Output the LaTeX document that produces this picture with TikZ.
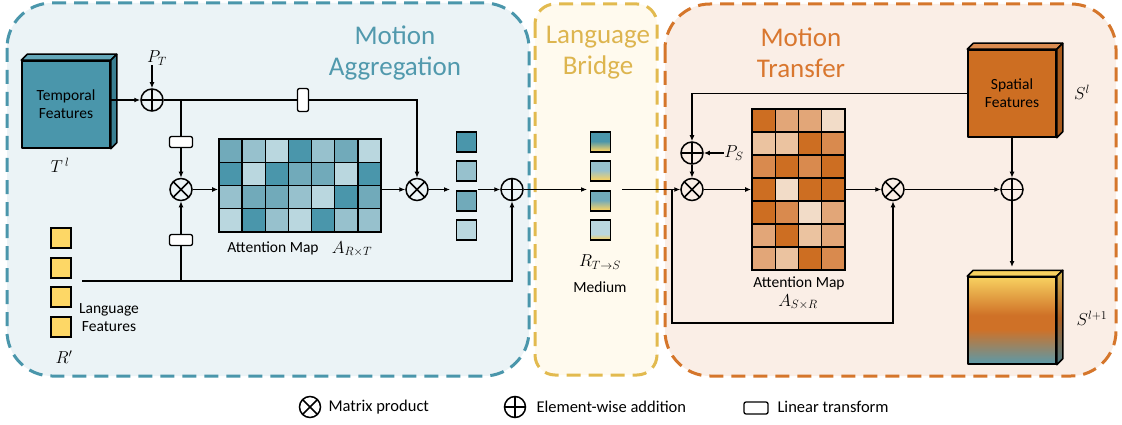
\documentclass[tikz,border=0pt]{standalone}
\usepackage{fontspec}
\setmainfont{Carlito}
\usetikzlibrary{arrows.meta,calc}
\definecolor{tealD}{HTML}{4A96AB}
\definecolor{tealM}{HTML}{71AABA}
\definecolor{tealL}{HTML}{97C1CD}
\definecolor{tealV}{HTML}{BAD7DF}
\definecolor{tealTop}{HTML}{63A7B9}
\definecolor{tealSide}{HTML}{3A7F92}
\definecolor{orD}{HTML}{CD6E22}
\definecolor{orM}{HTML}{D98A4E}
\definecolor{orL}{HTML}{E2A678}
\definecolor{orV}{HTML}{EBC3A0}
\definecolor{orW}{HTML}{F2DCC8}
\definecolor{orTop}{HTML}{DA8B50}
\definecolor{orSide}{HTML}{A95A1C}
\definecolor{blueFill}{HTML}{EBF3F6}
\definecolor{yelFill}{HTML}{FFFAEE}
\definecolor{orFill}{HTML}{FAEEE6}
\definecolor{blueLine}{HTML}{4A96AB}
\definecolor{yelLine}{HTML}{E2BA4F}
\definecolor{orLine}{HTML}{D5762B}
\definecolor{blueTitle}{HTML}{5199AD}
\definecolor{yelTitle}{HTML}{DDB54F}
\definecolor{orTitle}{HTML}{D9772F}
\definecolor{langY}{HTML}{FDD766}
\definecolor{medY}{HTML}{F3D168}
\definecolor{cubeY}{HTML}{F7D160}
\definecolor{cubeO}{HTML}{CF7127}
\definecolor{cubeT}{HTML}{5A9AAA}
\pgfdeclareverticalshading{medsha}{100bp}{color(0bp)=(medY); color(29bp)=(medY); color(52bp)=(tealD); color(100bp)=(tealD)}
\pgfdeclareverticalshading{medshb}{100bp}{color(0bp)=(medY); color(29bp)=(medY); color(52bp)=(tealL); color(100bp)=(tealL)}
\pgfdeclareverticalshading{medshc}{100bp}{color(0bp)=(medY); color(29bp)=(medY); color(52bp)=(tealM); color(100bp)=(tealM)}
\pgfdeclareverticalshading{medshd}{100bp}{color(0bp)=(medY); color(27bp)=(medY); color(40bp)=(tealV); color(100bp)=(tealV)}
\pgfdeclareverticalshading{cubesh}{100bp}{color(0bp)=(cubeT); color(25bp)=(cubeT); color(45bp)=(cubeO); color(53bp)=(cubeO); color(75bp)=(cubeY); color(100bp)=(cubeY)}
\tikzset{
  panel/.style={line width=3pt, dash pattern=on 14pt off 8pt},
  title/.style={font=\fontsize{27}{31}\selectfont, align=center},
  lbl/.style={font=\fontsize{15.5}{18}\selectfont, align=center},
  legtxt/.style={font=\fontsize{16.5}{19}\selectfont, anchor=west},
  mlbl/.style={font=\fontsize{18}{20}\selectfont, inner sep=0},
  conn/.style={line width=1.4pt},
  arr/.style={conn, -{Latex[length=6pt,width=5pt]}},
  opnode/.style={circle, draw, line width=1.5pt, minimum size=22pt, inner sep=0},
  otimesn/.style={opnode, path picture={\draw[line width=1.5pt] (path picture bounding box.north west) -- (path picture bounding box.south east) (path picture bounding box.north east) -- (path picture bounding box.south west);}},
  opl/.style={opnode, path picture={\draw[line width=1.5pt] (path picture bounding box.north) -- (path picture bounding box.south) (path picture bounding box.east) -- (path picture bounding box.west);}},
  lin/.style={draw, fill=white, rounded corners=2pt, line width=1.3pt, inner sep=0},
  linh/.style={lin, minimum width=23pt, minimum height=11pt},
  linv/.style={lin, minimum width=11pt, minimum height=23pt},
  sqn/.style={draw, line width=1.3pt, minimum size=20pt, inner sep=0},
  face/.style={line width=1.5pt, line join=round},
}
\begin{document}
\begin{tikzpicture}[x=1pt,y=-1pt]
\useasboundingbox (0,0) rectangle (1122,425);
% panels
\draw[panel, draw=blueLine, fill=blueFill, rounded corners=45pt] (7,3) rectangle (529,376);
\draw[panel, draw=yelLine, fill=yelFill, rounded corners=20pt] (535,4) rectangle (657,375);
\draw[panel, draw=orLine, fill=orFill, rounded corners=45pt] (665,4) rectangle (1116,376);
\node[title, text=blueTitle] (t1) at (395,53) {Motion\\Aggregation};
\node[title, text=yelTitle] (t2) at (598,53) {Language\\Bridge};
\node[title, text=orTitle] (t3) at (801,53) {Motion\\Transfer};

% temporal features cube
\node[draw, face, fill=tealD, minimum width=88pt, minimum height=87pt, lbl] (tf) at (66,104.5) {Temporal\\Features};
\filldraw[face, fill=tealTop] (tf.north west) -- ++(6,-6) -- ($(tf.north east)+(6,-6)$) -- (tf.north east) -- cycle;
\filldraw[face, fill=tealSide] (tf.north east) -- ++(6,-6) -- ($(tf.south east)+(6,-6)$) -- (tf.south east) -- cycle;
\node[mlbl] (Tl) at (60,165) {$T^{\,l}$};

% left attention map
\foreach \c [count=\i from 0] in {tealM,tealL,tealV,tealD,tealL,tealM,tealV,
  tealD,tealV,tealD,tealM,tealM,tealV,tealD,
  tealL,tealM,tealM,tealL,tealV,tealD,tealM,
  tealV,tealD,tealL,tealV,tealD,tealL,tealL}{
  \pgfmathtruncatemacro\myrow{int(\i/7)}
  \pgfmathtruncatemacro\mycol{mod(\i,7)}
  \fill[\c] (219+\mycol*162/7, 139+\myrow*93/4) rectangle ++(162/7, 93/4);
}
\foreach \k in {1,...,6} \draw[line width=1.3pt] (219+\k*162/7,139) -- ++(0,93);
\foreach \k in {1,2,3} \draw[line width=1.3pt] (219,139+\k*93/4) -- ++(162,0);
\node[draw, line width=1.8pt, minimum width=162pt, minimum height=93pt, inner sep=0] (amL) at (300,185.5) {};
\node[lbl] (amLt) at (273,248) {Attention Map};
\node[mlbl] (ART) at (352,249) {$A_{R\times T}$};

% ops left
\node[opl] (plT) at (152,100) {};
\node[mlbl] (PT) at (157,58) {$P_T$};
\node[otimesn] (otA) at (181,189.5) {};
\node[otimesn] (otB) at (417,189.5) {};
\node[opl] (plA) at (512,189.5) {};
\node[linv] (linTop) at (303,100) {};
\node[linh] (linU) at (181,142) {};
\node[linh] (linD) at (181,240) {};

% language features
\node[sqn, fill=langY] (lf1) at (61,238) {};
\node[sqn, fill=langY] (lf2) at (61,268) {};
\node[sqn, fill=langY] (lf3) at (61,297) {};
\node[sqn, fill=langY] (lf4) at (61,327) {};
\node[lbl] (lft) at (109,318) {Language\\Features};
\node[mlbl] (Rp) at (64,357) {$R'$};

% aggregated column
\node[sqn, fill=tealD] (sq1) at (466.5,142) {};
\node[sqn, fill=tealL] (sq2) at (466.5,171) {};
\node[sqn, fill=tealM] (sq3) at (466.5,201) {};
\node[sqn, fill=tealV] (sq4) at (466.5,230) {};

% medium column
\node[sqn, shade, shading=medsha] (md1) at (600.5,142) {};
\node[sqn, shade, shading=medshb] (md2) at (600.5,171) {};
\node[sqn, shade, shading=medshc] (md3) at (600.5,201) {};
\node[sqn, shade, shading=medshd] (md4) at (600.5,230) {};
\node[mlbl] (RTS) at (600,262) {$R_{T\to S}$};
\node[lbl] (medt) at (600,287) {Medium};

% connectors left
\coordinate (brT) at (181,100);
\coordinate (langS) at (82,281);
\coordinate (brL) at (181,281);
\coordinate (colIn) at (450,189.5);
\coordinate (colOut) at (478,189.5);
\coordinate (medIn) at (587,189.5);
\coordinate (medOut) at (622,189.5);
\draw[arr] (tf.east |- plT) -- (plT.west);
\draw[arr] (PT.south -| plT) -- (plT.north);
\draw[conn] (plT.east) -- (linTop.west);
\draw[arr] (linTop.east) -- (linTop.east -| otB) -- (otB.north);
\draw[conn] (brT) -- (linU.north);
\draw[arr] (linU.south) -- (otA.north);
\draw[arr] (langS) -- (langS -| plA) -- (plA.south);
\draw[conn] (brL) -- (linD.south);
\draw[arr] (linD.north) -- (otA.south);
\draw[arr] (otA.east) -- (amL.west |- otA);
\draw[arr] (amL.east |- otB) -- (otB.west);
\draw[arr] (otB.east) -- (colIn);
\draw[arr] (colOut) -- (plA.west);
\draw[arr] (plA.east) -- (medIn);

% right part
\foreach \c [count=\i from 0] in {orD,orL,orL,orW,
  orV,orV,orD,orM,
  orM,orD,orM,orD,
  orD,orW,orD,orD,
  orD,orM,orW,orL,
  orL,orD,orV,orL,
  orL,orV,orD,orM}{
  \pgfmathtruncatemacro\myrow{int(\i/4)}
  \pgfmathtruncatemacro\mycol{mod(\i,4)}
  \fill[\c] (752+\mycol*93/4, 109+\myrow*161/7) rectangle ++(93/4, 161/7);
}
\foreach \k in {1,2,3} \draw[line width=1.3pt] (752+\k*93/4,109) -- ++(0,161);
\foreach \k in {1,...,6} \draw[line width=1.3pt] (752,109+\k*161/7) -- ++(93,0);
\node[draw, line width=1.8pt, minimum width=93pt, minimum height=161pt, inner sep=0] (amR) at (798.5,189.5) {};
\node[lbl] (amRt) at (799,283) {Attention Map};
\node[mlbl] (ASR) at (798,302) {$A_{S\times R}$};

\node[opl] (plB) at (692,153) {};
\node[mlbl] (PS) at (734,153) {$P_S$};
\node[otimesn] (otC) at (692,189.5) {};
\node[otimesn] (otD) at (893,189.5) {};
\node[opl] (plC) at (1012,189.5) {};

% spatial features cube
\node[draw, face, fill=orD, minimum width=88pt, minimum height=87pt, lbl] (sp) at (1012,93.5) {Spatial\\Features};
\filldraw[face, fill=orTop] (sp.north west) -- ++(6,-6) -- ($(sp.north east)+(6,-6)$) -- (sp.north east) -- cycle;
\filldraw[face, fill=orSide] (sp.north east) -- ++(6,-6) -- ($(sp.south east)+(6,-6)$) -- (sp.south east) -- cycle;
\node[mlbl] (Sl) at (1082,92) {$S^{l}$};

% output cube
\node[draw, face, shade, shading=cubesh, minimum width=88pt, minimum height=87pt] (sn) at (1012,320.5) {};
\filldraw[face, fill=cubeY] (sn.north west) -- ++(6,-6) -- ($(sn.north east)+(6,-6)$) -- (sn.north east) -- cycle;
\shade[top color=cubeY!85!black, bottom color=cubeT!80!black, middle color=cubeO!85!black] (sn.north east) -- ++(6,-6) -- ($(sn.south east)+(6,-6)$) -- (sn.south east) -- cycle;
\draw[face] (sn.north east) -- ++(6,-6) -- ($(sn.south east)+(6,-6)$) -- (sn.south east) -- cycle;
\node[mlbl] (Sl1) at (1092,318) {$S^{l+1}$};

\coordinate (brR) at (672,189.5);
\coordinate (loopR) at (672,323);
\coordinate (snTop) at (1012,267);
\draw[arr] (medOut) -- (otC.west);
\draw[arr] (brR) -- (loopR) -- (loopR -| otD) -- (otD.south);
\draw[arr] (sp.west) -- (sp.west -| plB) -- (plB.north);
\draw[arr] (PS.west) -- (plB.east);
\draw[arr] (plB.south) -- (otC.north);
\draw[arr] (otC.east) -- (amR.west |- otC);
\draw[arr] (amR.east |- otD) -- (otD.west);
\draw[arr] (otD.east) -- (plC.west);
\draw[arr] (sp.south) -- (plC.north);
\draw[arr] (plC.south) -- (snTop);

% legend
\node[otimesn, minimum size=21pt] (lgA) at (310,407) {};
\node[legtxt] (lgAt) at (325,407) {Matrix product};
\node[opl, minimum size=21pt] (lgB) at (515,407) {};
\node[legtxt] (lgBt) at (533,407) {Element-wise addition};
\node[lin, minimum width=24pt, minimum height=12pt] (lgC) at (756,408) {};
\node[legtxt] (lgCt) at (774,407) {Linear transform};
\end{tikzpicture}
\end{document}
